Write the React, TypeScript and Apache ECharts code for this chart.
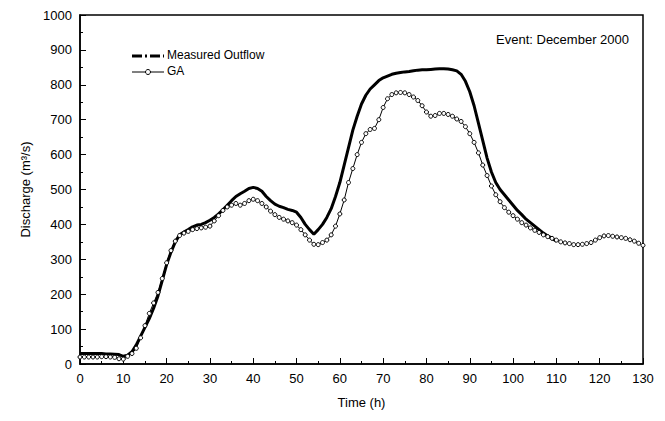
import React, { useEffect, useRef } from "react";
import * as echarts from "echarts";

const measured = [30,30,30,30,30,30,29,29,28,27,22,25,35,55,80,105,130,160,195,240,285,320,350,370,378,385,393,398,400,405,412,420,430,442,455,468,480,488,495,503,506,503,495,480,468,458,452,448,443,440,435,420,400,385,372,385,400,420,445,480,520,570,620,670,710,745,770,788,800,812,820,825,830,833,835,837,838,840,842,843,843,844,845,846,846,845,843,840,830,810,780,740,690,640,590,550,520,500,485,470,455,440,428,415,405,395,385,375,367,360,352];
const ga = [20,20,20,20,20,21,21,20,19,15,14,22,30,45,75,110,145,175,205,245,290,325,352,368,375,380,385,388,390,392,395,410,425,440,450,455,460,455,460,468,472,468,460,450,438,428,420,415,410,405,398,385,370,355,343,342,348,355,370,395,430,470,520,560,600,635,660,672,675,700,735,760,772,777,778,777,772,765,755,740,722,710,712,718,718,715,710,702,695,680,660,635,605,570,540,510,485,465,448,435,425,415,405,398,390,383,377,370,365,360,355,350,347,345,342,342,343,345,348,355,362,367,368,366,364,362,360,356,352,346,340];

export default function App() {
  const ref = useRef<HTMLDivElement>(null);
  useEffect(() => {
    const chart = echarts.init(ref.current!, null, { renderer: "svg" });
    const font = "Liberation Sans, Arial, sans-serif";
    const axisCommon = {
      axisLine: { show: true, lineStyle: { color: "#000", width: 1.5 } },
      axisTick: { show: true, inside: true, length: 6, lineStyle: { color: "#000" } },
      minorTick: { show: true, splitNumber: 2, length: 3, lineStyle: { color: "#000" } },
      splitLine: { show: false },
      axisLabel: { color: "#000", fontSize: 13, fontFamily: font, formatter: (v: number) => String(v) },
      nameTextStyle: { color: "#000", fontSize: 13, fontFamily: font },
    };
    chart.setOption({
      animation: false,
      grid: { left: 80, right: 22, top: 15, bottom: 57, show: true, borderColor: "#000", borderWidth: 1.5 },
      xAxis: {
        type: "value", min: 0, max: 130, interval: 10, name: "Time (h)",
        nameLocation: "middle", nameGap: 32, ...axisCommon,
      },
      yAxis: {
        type: "value", min: 0, max: 1000, interval: 100, name: "Discharge (m³/s)",
        nameLocation: "middle", nameGap: 47, ...axisCommon,
      },
      graphic: [
        { type: "text", right: 36, top: 33,
          style: { text: "Event: December 2000", fill: "#000", fontSize: 13, fontFamily: font } },
        { type: "line", shape: { x1: 132, y1: 56, x2: 164, y2: 56 },
          style: { stroke: "#000", lineWidth: 3, lineDash: [10, 3, 2, 3] } },
        { type: "text", x: 167, y: 49, style: { text: "Measured Outflow", fill: "#000", fontSize: 12, fontFamily: font } },
        { type: "line", shape: { x1: 132, y1: 72, x2: 164, y2: 72 }, style: { stroke: "#000", lineWidth: 1 } },
        { type: "circle", shape: { cx: 148, cy: 72, r: 2.5 }, style: { fill: "#fff", stroke: "#000", lineWidth: 1 } },
        { type: "text", x: 167, y: 65, style: { text: "GA", fill: "#000", fontSize: 12, fontFamily: font } },
      ],
      series: [
        {
          name: "Measured Outflow", type: "line", data: measured.map((v, i) => [i, v]),
          showSymbol: false, symbol: "none", lineStyle: { color: "#000", width: 3 }, itemStyle: { color: "#000" },
        },
        {
          name: "GA", type: "line", data: ga.map((v, i) => [i, v]),
          symbol: "circle", symbolSize: 4, showSymbol: true,
          lineStyle: { color: "#000", width: 1 }, itemStyle: { color: "#fff", borderColor: "#000", borderWidth: 1 },
        },
      ],
    });
    return () => chart.dispose();
  }, []);
  return <div ref={ref} style={{ width: 665, height: 421, margin: -8 }} />;
}
